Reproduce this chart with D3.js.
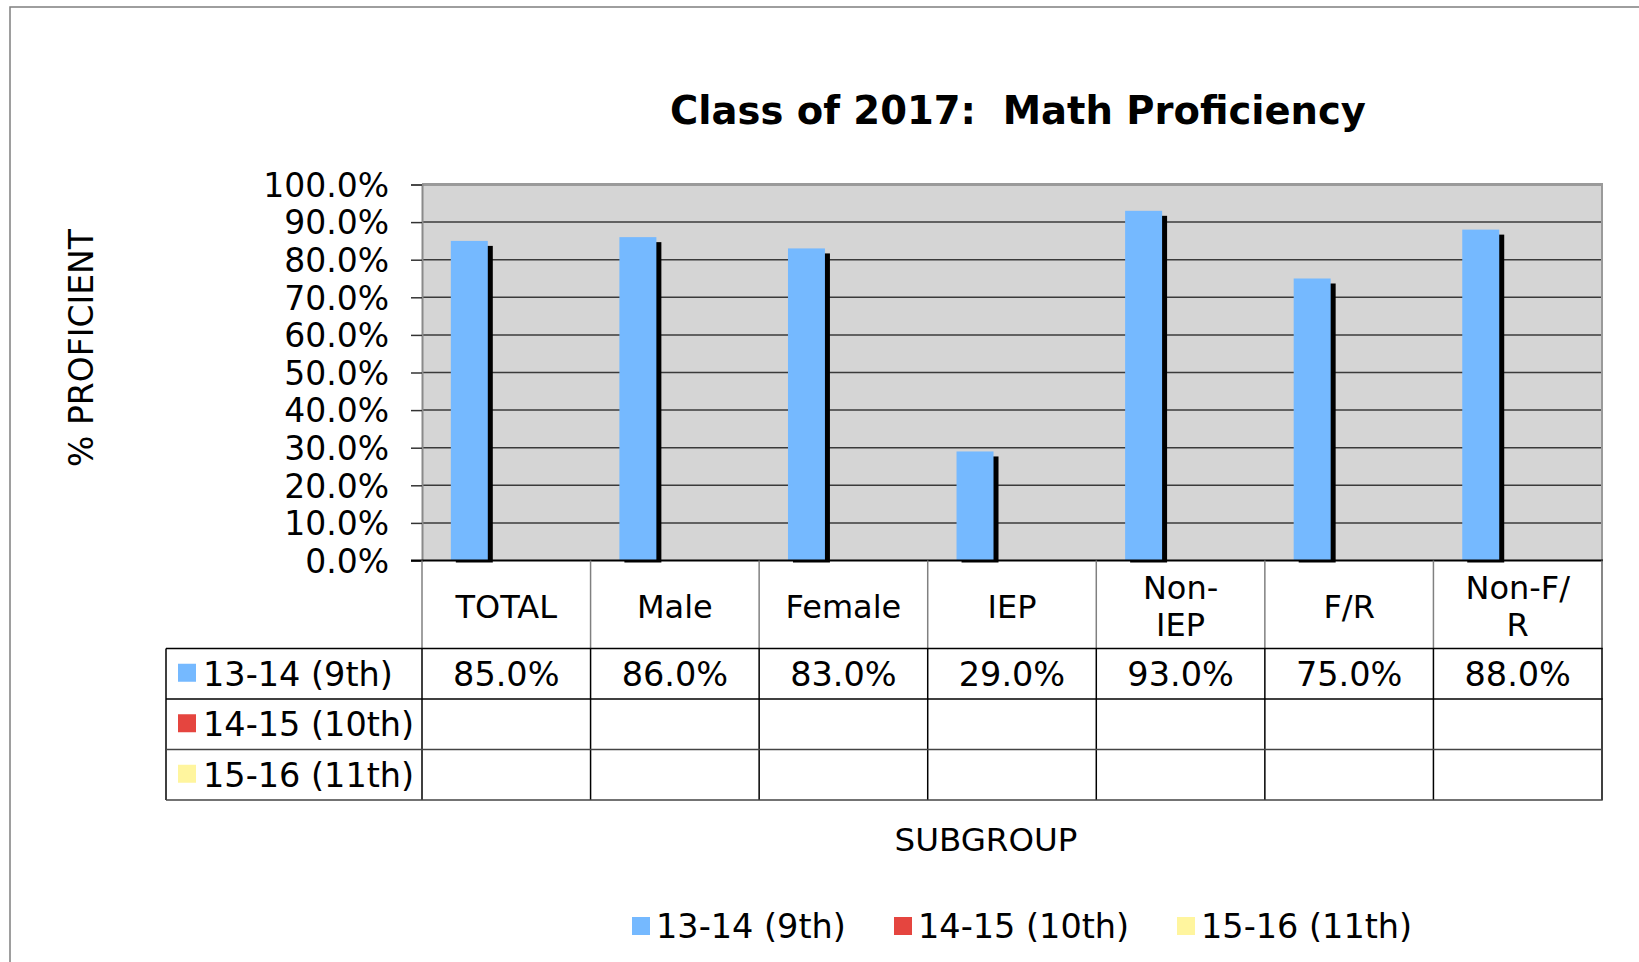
<!DOCTYPE html>
<html>
<head>
<meta charset="utf-8">
<script src="https://cdn.jsdelivr.net/npm/d3@7"></script>
<style>
  html, body { margin: 0; padding: 0; background: #fff; }
  svg { display: block; }
  text { font-family: "DejaVu Sans", Verdana, sans-serif; fill: #000; white-space: pre; }
</style>
</head>
<body>
<svg id="chart" width="1639" height="962"></svg>
<script>
// ---- data ----
const categories = ["TOTAL", "Male", "Female", "IEP", "Non-IEP", "F/R", "Non-F/R"];
const categoryLines = [["TOTAL"], ["Male"], ["Female"], ["IEP"], ["Non-", "IEP"], ["F/R"], ["Non-F/", "R"]];
const seriesNames = ["13-14 (9th)", "14-15 (10th)", "15-16 (11th)"];
const series9th = [85, 86, 83, 29, 93, 75, 88];
const series10th = [null, null, null, null, null, null, null];
const series11th = [null, null, null, null, null, null, null];
const yTickValues = [0, 10, 20, 30, 40, 50, 60, 70, 80, 90, 100];
const seriesColors = ["#75b9ff", "#e5453f", "#fff59e"];
const chartTitle = "Class of 2017:  Math Proficiency";
const yTitle = "% PROFICIENT";
const xTitle = "SUBGROUP";

const seriesValues = [series9th, series10th, series11th];

// ---- layout ----
const svg = d3.select("#chart");
const plotL = 422, plotR = 1602, plotT = 184.5, plotB = 560.5;
const legendColL = 166;
const headerBottom = 648.5, rowH = 50.5;
const fs = 32;      // category labels
const fsv = 33.5;   // values / legend text

// outer frame
svg.append("rect").attr("x", 10).attr("y", 7).attr("width", 1700).attr("height", 1000)
  .attr("fill", "none").attr("stroke", "#7f7f7f").attr("stroke-width", 1.5);

const x0 = d3.scaleBand().domain(categories).range([plotL, plotR])
  .paddingInner(0.342).paddingOuter(0.171);
const x1 = d3.scaleBand().domain(d3.range(seriesNames.length)).range([0, x0.bandwidth()]);
const y = d3.scaleLinear().domain([0, 100]).range([plotB, plotT]);

// plot background
svg.append("rect").attr("x", plotL).attr("y", plotT).attr("width", plotR - plotL)
  .attr("height", plotB - plotT).attr("fill", "#d5d5d5");

// gridlines
svg.append("g").selectAll("line").data(yTickValues.filter(v => v > 0 && v < 100)).join("line")
  .attr("x1", plotL).attr("x2", plotR).attr("y1", d => y(d)).attr("y2", d => y(d))
  .attr("stroke", "#3a3a3a").attr("stroke-width", 1.5);

// top & right border of plot
svg.append("line").attr("x1", plotL).attr("x2", plotR + 1).attr("y1", plotT).attr("y2", plotT)
  .attr("stroke", "#9a9a9a").attr("stroke-width", 3);
svg.append("line").attr("x1", plotR).attr("x2", plotR).attr("y1", plotT).attr("y2", headerBottom)
  .attr("stroke", "#9a9a9a").attr("stroke-width", 2);

// y axis
const yAxis = d3.axisLeft(y).tickValues(yTickValues)
  .tickFormat(d => d.toFixed(1) + "%").tickSize(11).tickPadding(22);
const gy = svg.append("g").attr("transform", `translate(${plotL},0)`).call(yAxis);
gy.select(".domain").attr("stroke", "#8a8a8a").attr("stroke-width", 2);
gy.selectAll(".tick line").attr("stroke", "#333").attr("stroke-width", 1.5);
gy.selectAll(".tick text").attr("font-size", 33).attr("font-family", "DejaVu Sans")
  .attr("fill", "#000").attr("dy", "0.36em");

// bars with shadows
const groups = svg.append("g").selectAll("g").data(categories).join("g")
  .attr("transform", d => `translate(${x0(d)},0)`);
seriesValues.forEach((vals, si) => {
  groups.each(function(cat, ci) {
    const v = vals[ci];
    if (v == null) return;
    const g = d3.select(this);
    const bx = x1(si), bw = x1.bandwidth(), by = y(v);
    g.append("rect").attr("x", bx + 5).attr("y", by + 5).attr("width", bw)
      .attr("height", plotB + 2 - (by + 5)).attr("fill", "#000");
    g.append("rect").attr("x", bx).attr("y", by).attr("width", bw)
      .attr("height", plotB - by).attr("fill", seriesColors[si]);
  });
});

// x axis base line
svg.append("line").attr("x1", 411).attr("x2", plotR + 1).attr("y1", plotB).attr("y2", plotB)
  .attr("stroke", "#000").attr("stroke-width", 2);

// ---- data table ----
const step = x0.step();
const colEdges = d3.range(categories.length + 1).map(i => plotL + i * step);
const tableBottom = headerBottom + rowH * seriesNames.length;

svg.append("g").selectAll("line").data(colEdges).join("line")
  .attr("x1", d => d).attr("x2", d => d).attr("y1", plotB).attr("y2", headerBottom)
  .attr("stroke", "#808080").attr("stroke-width", 1.5);
svg.append("g").selectAll("line").data([legendColL].concat(colEdges)).join("line")
  .attr("x1", d => d).attr("x2", d => d).attr("y1", headerBottom).attr("y2", tableBottom)
  .attr("stroke", "#000").attr("stroke-width", 1.5);
svg.append("g").selectAll("line").data(d3.range(seriesNames.length + 1)).join("line")
  .attr("x1", legendColL).attr("x2", plotR + 0.75)
  .attr("y1", i => headerBottom + i * rowH).attr("y2", i => headerBottom + i * rowH)
  .attr("stroke", i => (i >= 2 ? "#444" : "#000")).attr("stroke-width", 1.5);

// category labels
const catG = svg.append("g").selectAll("text").data(categories).join("text")
  .attr("text-anchor", "middle").attr("font-size", fs)
  .attr("transform", d => `translate(${x0(d) + x0.bandwidth() / 2},0)`);
catG.each(function(d, i) {
  const lines = categoryLines[i];
  const t = d3.select(this);
  const base = lines.length === 1 ? 618 : 599;
  lines.forEach((ln, li) => {
    t.append("tspan").attr("x", 0).attr("y", base + li * 37).text(ln);
  });
});

// series rows
seriesNames.forEach((name, si) => {
  const cy = headerBottom + si * rowH + rowH / 2;
  svg.append("rect").attr("x", 178).attr("y", cy - 10).attr("width", 18).attr("height", 18)
    .attr("fill", seriesColors[si]);
  svg.append("text").attr("x", 203).attr("y", cy + 12).attr("font-size", fsv).text(name);
  svg.append("g").selectAll("text").data(categories).join("text")
    .attr("x", d => x0(d) + x0.bandwidth() / 2).attr("y", cy + 12)
    .attr("text-anchor", "middle").attr("font-size", fsv)
    .text((d, ci) => seriesValues[si][ci] == null ? "" : seriesValues[si][ci].toFixed(1) + "%");
});

// titles
svg.append("text").attr("x", 1018).attr("y", 124).attr("text-anchor", "middle")
  .attr("font-size", 38.5).attr("font-weight", "bold").text(chartTitle);
svg.append("text").attr("transform", "translate(93,348) rotate(-90)")
  .attr("text-anchor", "middle").attr("font-size", 33).text(yTitle);
svg.append("text").attr("x", 986).attr("y", 851).attr("text-anchor", "middle")
  .attr("font-size", 32.5).text(xTitle);

// bottom legend
const legendX = [632, 894, 1177];
seriesNames.forEach((name, si) => {
  svg.append("rect").attr("x", legendX[si]).attr("y", 917).attr("width", 18).attr("height", 18)
    .attr("fill", seriesColors[si]);
  svg.append("text").attr("x", legendX[si] + 24).attr("y", 938).attr("font-size", fsv).text(name);
});
</script>
</body>
</html>
